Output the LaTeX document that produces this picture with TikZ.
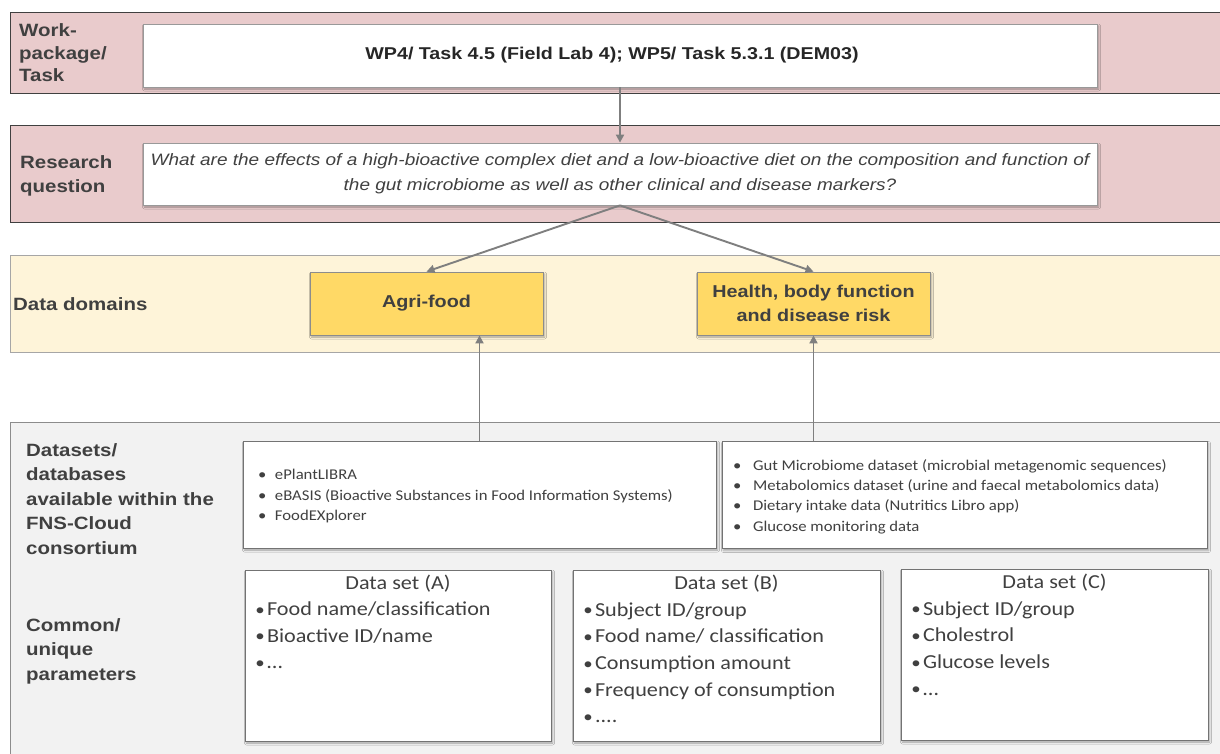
\documentclass[tikz,border=0pt]{standalone}
\usepackage{fontspec}
\setmainfont{Liberation Sans}[FakeStretch=1.15]
\newfontfamily\calfont{Carlito}[FakeStretch=1.12]
\usetikzlibrary{arrows.meta,shadows.blur}
\definecolor{bandpink}{HTML}{E9CBCC}
\definecolor{bandyellow}{HTML}{FEF4D9}
\definecolor{bandgray}{HTML}{F2F2F2}
\definecolor{domaingold}{HTML}{FFD966}
\definecolor{textgray}{HTML}{404040}
\definecolor{linegray}{HTML}{7F7F7F}
\begin{document}
\begin{tikzpicture}[x=1pt,y=-1pt,
  band/.style={draw, inner sep=0pt, anchor=north west},
  pinkrow/.style={band, fill=bandpink, draw=textgray, line width=1.2pt},
  yellowrow/.style={band, fill=bandyellow, draw=black!35, line width=1pt},
  grayrow/.style={band, fill=bandgray, draw=black!45, line width=1pt},
  rowlabel/.style={anchor=west, inner sep=0pt, align=left, text=textgray,
    font=\bfseries\fontsize{17.8}{24.5}\selectfont},
  softshadow/.style={blur shadow={shadow xshift=1.5pt, shadow yshift=-2pt,
    shadow blur radius=2pt, shadow opacity=35}},
  whitebox/.style={draw=black!40, fill=white, line width=0.8pt, inner sep=0pt, softshadow},
  goldbox/.style={draw=black!45, fill=domaingold, line width=0.8pt, inner sep=0pt,
    softshadow, align=center, text=textgray, font=\bfseries\fontsize{17.2}{24}\selectfont},
  listbox/.style={draw=black!55, fill=white, line width=0.8pt, inner sep=0pt, softshadow,
    text=textgray},
  flow/.style={draw=linegray, line width=1.9pt, -{Triangle[length=8pt,width=8pt]}}
]
\useasboundingbox (0,0) rectangle (1220,753);

% ---- row bands ----
\node[pinkrow, minimum width=1220pt, minimum height=81pt] (bandwp) at (10,12) {};
\node[pinkrow, minimum width=1220pt, minimum height=97pt] (bandrq) at (10,125) {};
\node[yellowrow, minimum width=1220pt, minimum height=97pt] (banddom) at (10,255) {};
\node[grayrow, minimum width=1220pt, minimum height=345pt] (banddata) at (10,422) {};

% ---- row labels ----
\node[rowlabel, font=\bfseries\fontsize{17.8}{22.5}\selectfont] (lblwp) at (19,53) {Work-\\package/\\Task};
\node[rowlabel] (lblrq) at (20,176) {Research\\question};
\node[rowlabel] (lbldom) at (13,304) {Data domains};
\node[rowlabel] (lbldb) at (26,499) {Datasets/\\databases\\available within the\\FNS-Cloud\\consortium};
\node[rowlabel] (lblpar) at (26,651) {Common/\\unique\\parameters};

% ---- top boxes ----
\node[whitebox, minimum width=954pt, minimum height=63pt,
  font=\bfseries\fontsize{17.1}{20}\selectfont, text=black!85] (wp) at (620,55.5)
  {WP4/ Task 4.5 (Field Lab 4); WP5/ Task 5.3.1 (DEM03)\hspace*{16pt}};
\node[whitebox, minimum width=954pt, minimum height=62pt, align=center,
  font=\itshape\fontsize{16.5}{25}\selectfont, text=textgray] (rq) at (620,174)
  {What are the effects of a high-bioactive complex diet and a low-bioactive diet on the composition and function of\\
   the gut microbiome as well as other clinical and disease markers?};

% ---- data domains ----
\node[goldbox, minimum width=233pt, minimum height=63pt] (agri) at (426.5,303.5) {Agri-food};
\node[goldbox, minimum width=233pt, minimum height=63pt] (health) at (813.5,303.5)
  {Health, body function\\and disease risk};

% ---- databases ----
\node[listbox, minimum width=473pt, minimum height=107pt] (dbA) at (479.5,494.5)
  {\parbox{443pt}{\calfont\fontsize{14.9}{20.5}\selectfont\vspace{4pt}
   \makebox[17pt][l]{\textbullet}ePlantLIBRA\\
   \makebox[17pt][l]{\textbullet}eBASIS (Bioactive Substances in Food Information Systems)\\
   \makebox[17pt][l]{\textbullet}FoodEXplorer}};
\node[listbox, minimum width=485pt, minimum height=107pt] (dbB) at (964.5,495)
  {\parbox{463pt}{\calfont\fontsize{14.9}{20.3}\selectfont\vspace{3pt}
   \makebox[20pt][l]{\textbullet}Gut Microbiome dataset (microbial metagenomic sequences)\\
   \makebox[20pt][l]{\textbullet}Metabolomics dataset (urine and faecal metabolomics data)\\
   \makebox[20pt][l]{\textbullet}Dietary intake data (Nutritics Libro app)\\
   \makebox[20pt][l]{\textbullet}Glucose monitoring data}};

% ---- data sets ----
\newcommand{\itembullet}{\makebox[14pt][c]{\raisebox{0.5pt}{\scalebox{0.85}{\textbullet}}}}
\node[listbox, minimum width=306pt, minimum height=171pt] (setA) at (398,655.5)
  {\parbox[c][171pt][t]{290pt}{\calfont\fontsize{19.8}{26.5}\selectfont\vspace{5pt}
   \makebox[\linewidth][c]{Data set (A)}\\
   \itembullet Food name/classification\\
   \itembullet Bioactive ID/name\\
   \itembullet …}};
\node[listbox, minimum width=307pt, minimum height=171pt] (setB) at (726.5,655.5)
  {\parbox[c][171pt][t]{291pt}{\calfont\fontsize{19.8}{26.7}\selectfont\vspace{5pt}
   \makebox[\linewidth][c]{Data set (B)}\\
   \itembullet Subject ID/group\\
   \itembullet Food name/ classification\\
   \itembullet Consumption amount\\
   \itembullet Frequency of consumption\\
   \itembullet ....}};
\node[listbox, minimum width=307pt, minimum height=171pt] (setC) at (1054.5,654.5)
  {\parbox[c][171pt][t]{291pt}{\calfont\fontsize{19.8}{26.7}\selectfont\vspace{5pt}
   \makebox[\linewidth][c]{Data set (C)}\\
   \itembullet Subject ID/group\\
   \itembullet Cholestrol\\
   \itembullet Glucose levels\\
   \itembullet …}};

% ---- connectors ----
\draw[flow] (wp.south) -- (rq.north);
\draw[flow] (rq.south) -- (agri.north);
\draw[flow] (rq.south) -- (health.north);
\draw[flow] (dbA.north) -- (dbA.north |- agri.south);
\draw[flow] (dbB.north -| health.south) -- (health.south);
\end{tikzpicture}
\end{document}
